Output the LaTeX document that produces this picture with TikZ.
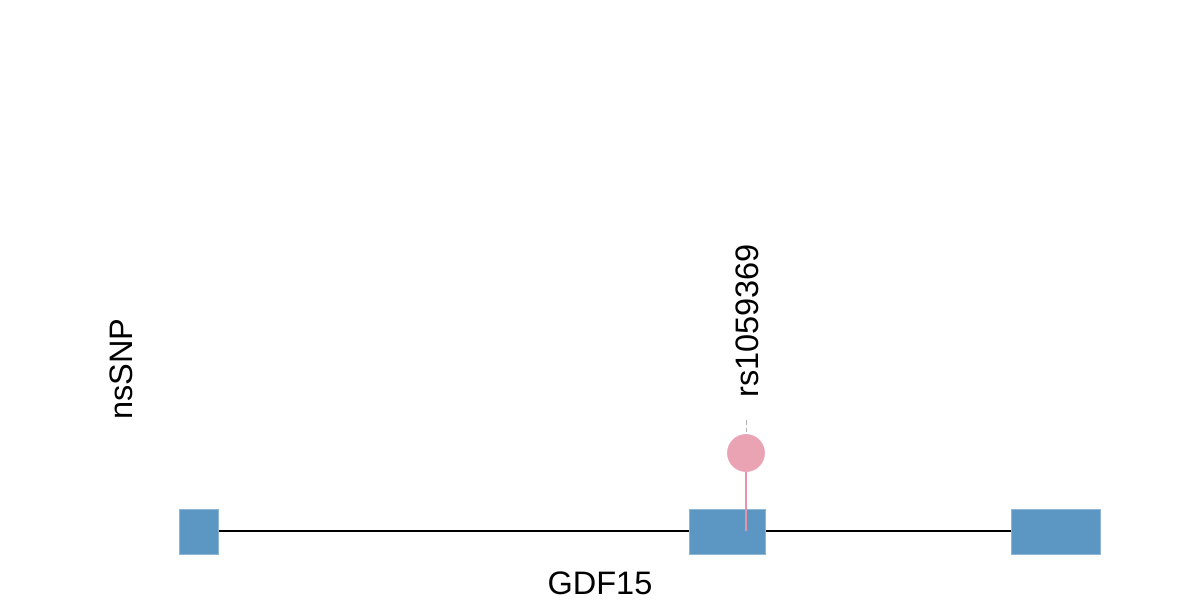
\documentclass[tikz,border=0pt]{standalone}
\usepackage{fontspec}
\setmainfont{Liberation Sans}
\definecolor{exonblue}{HTML}{5B97C2}
\definecolor{snpfill}{HTML}{EAA3B3}
\definecolor{snpline}{HTML}{E891A9}
\begin{document}
\begin{tikzpicture}[x=1pt,y=-1pt,
  exon/.style={fill=exonblue,draw=exonblue!70!white,line width=0.8pt},
  lbl/.style={font=\fontsize{32.5}{38}\selectfont,inner sep=0pt}]
\useasboundingbox (0,0) rectangle (1200,600);
\coordinate (ls) at (218,531);
\coordinate (le) at (1011,531);
\draw[line width=1.6pt] (ls) -- (le);
\node[exon,minimum width=39pt,minimum height=45pt,inner sep=0pt] (e1) at (198.5,531.5) {};
\node[exon,minimum width=76pt,minimum height=45pt,inner sep=0pt] (e2) at (727,531.5) {};
\node[exon,minimum width=89pt,minimum height=45pt,inner sep=0pt] (e3) at (1055.5,531.5) {};
\coordinate (stemb) at (746,531);
\node[circle,fill=snpfill,draw=snpline!80!white,line width=0.8pt,minimum size=37pt,inner sep=0pt] (snp) at (746,453) {};
\draw[snpline,line width=1.5pt] (stemb) -- (snp.south);
\coordinate (d1) at (746,420);
\coordinate (d2) at (746,432);
\draw[gray!60,line width=1pt,dash pattern=on 5pt off 3pt] (d1) -- (d2);
\node[lbl,rotate=90,anchor=west] (rs) at (747,398) {rs1059369};
\node[lbl,rotate=90] (ns) at (121,369) {nsSNP};
\node[lbl] (g) at (600,583) {GDF15};
\end{tikzpicture}
\end{document}
